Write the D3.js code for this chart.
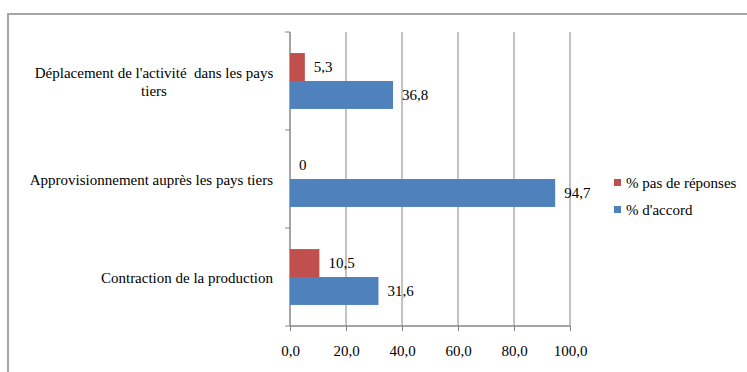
<!DOCTYPE html>
<html>
<head>
<meta charset="utf-8">
<script src="https://cdn.jsdelivr.net/npm/d3@7"></script>
<style>
  body { margin: 0; background: #fff; }
</style>
</head>
<body>
<div class="chart"></div>
<script>
// categories, top to bottom
let categories = [
    ["Déplacement de l'activité  dans les pays", "tiers"],
    ["Approvisionnement auprès les pays tiers"],
    ["Contraction de la production"]
];
let seriesNames = ["% pas de réponses", "% d'accord"];
let pasDeReponses = [5.3, 0, 10.5];
let dAccord = [36.8, 94.7, 31.6];
let tickValues = [0, 20, 40, 60, 80, 100];
let colors = ["#C0504D", "#4F81BD"];

let serif = "'Liberation Serif', 'Times New Roman', serif";
let fontSize = "15px";
let width = 747, height = 372;
let svg = d3.select(".chart").append("svg")
    .attr("width", width)
    .attr("height", height)
    .style("font-family", serif);

// outer frame (runs off the right and bottom edges)
svg.append("rect")
    .attr("x", 8).attr("y", 14)
    .attr("width", 760).attr("height", 380)
    .attr("fill", "none")
    .attr("stroke", "#a6a6a6")
    .attr("stroke-width", 2);

let plot = {left: 290, right: 570, top: 32, bottom: 326};

let xScale = d3.scaleLinear()
    .domain([0, 100])
    .range([plot.left, plot.right]);

let keys = categories.map((c, i) => i);
let yScale = d3.scaleBand()
    .domain(keys)
    .range([plot.top, plot.bottom])
    .paddingInner(0.43)
    .paddingOuter(0.215);

let inner = d3.scaleBand()
    .domain([0, 1])
    .range([0, yScale.bandwidth()]);

// gridlines
svg.append("g").selectAll("line")
    .data(tickValues.slice(1))
    .enter().append("line")
    .attr("x1", d => xScale(d)).attr("x2", d => xScale(d))
    .attr("y1", plot.top).attr("y2", plot.bottom)
    .attr("stroke", "#868686")
    .attr("stroke-width", 1);

// x axis
let xAxis = d3.axisBottom(xScale)
    .tickValues(tickValues)
    .tickSize(5)
    .tickPadding(14)
    .tickFormat(d => d3.format(".1f")(d).replace(".", ","));

let gx = svg.append("g")
    .attr("transform", "translate(0," + plot.bottom + ")")
    .call(xAxis);
gx.select(".domain").attr("stroke", "#868686").attr("stroke-width", 1.5)
    .attr("d", "M" + plot.left + ",0H" + plot.right);
gx.selectAll(".tick line").attr("stroke", "#868686");
gx.selectAll(".tick text")
    .style("font-family", serif)
    .style("font-size", fontSize)
    .attr("fill", "#000");

// y axis line and category separator ticks
svg.append("line")
    .attr("x1", plot.left).attr("x2", plot.left)
    .attr("y1", plot.top).attr("y2", plot.bottom)
    .attr("stroke", "#868686").attr("stroke-width", 1.5);

let step = (plot.bottom - plot.top) / categories.length;
svg.append("g").selectAll("line")
    .data(d3.range(categories.length + 1))
    .enter().append("line")
    .attr("x1", plot.left - 5).attr("x2", plot.left)
    .attr("y1", d => plot.top + d * step).attr("y2", d => plot.top + d * step)
    .attr("stroke", "#868686");

// bars
let series = [pasDeReponses, dAccord];
series.forEach(function(values, s) {
    let g = svg.append("g");
    g.selectAll("rect")
        .data(values)
        .enter().append("rect")
        .attr("x", xScale(0))
        .attr("y", (d, i) => yScale(i) + inner(s))
        .attr("width", d => xScale(d) - xScale(0))
        .attr("height", inner.bandwidth())
        .attr("fill", colors[s]);

    g.selectAll("text")
        .data(values)
        .enter().append("text")
        .attr("x", d => xScale(d) + 9)
        .attr("y", (d, i) => yScale(i) + inner(s) + inner.bandwidth() / 2)
        .attr("dy", "0.35em")
        .style("font-size", fontSize)
        .text(d => d3.format(".1f")(d).replace(".", ",").replace(/,0$/, ""));
});

// category labels
categories.forEach(function(lines, i) {
    let cy = yScale(i) + yScale.bandwidth() / 2 + 1;
    let lh = 18;
    let t = svg.append("text")
        .attr("text-anchor", lines.length > 1 ? "middle" : "end")
        .attr("xml:space", "preserve")
        .style("white-space", "pre")
        .style("font-size", fontSize);
    lines.forEach(function(line, j) {
        t.append("tspan")
            .attr("x", lines.length > 1 ? 154 : 273)
            .attr("y", cy + (j - (lines.length - 1) / 2) * lh)
            .attr("dy", "0.35em")
            .text(line);
    });
});

// legend
let legend = svg.append("g");
seriesNames.forEach(function(name, i) {
    legend.append("rect")
        .attr("x", 614).attr("y", 179 + i * 27)
        .attr("width", 7).attr("height", 7)
        .attr("fill", colors[i]);
    legend.append("text")
        .attr("x", 626).attr("y", 188 + i * 27)
        .style("font-size", fontSize)
        .text(name);
});
</script>
</body>
</html>
